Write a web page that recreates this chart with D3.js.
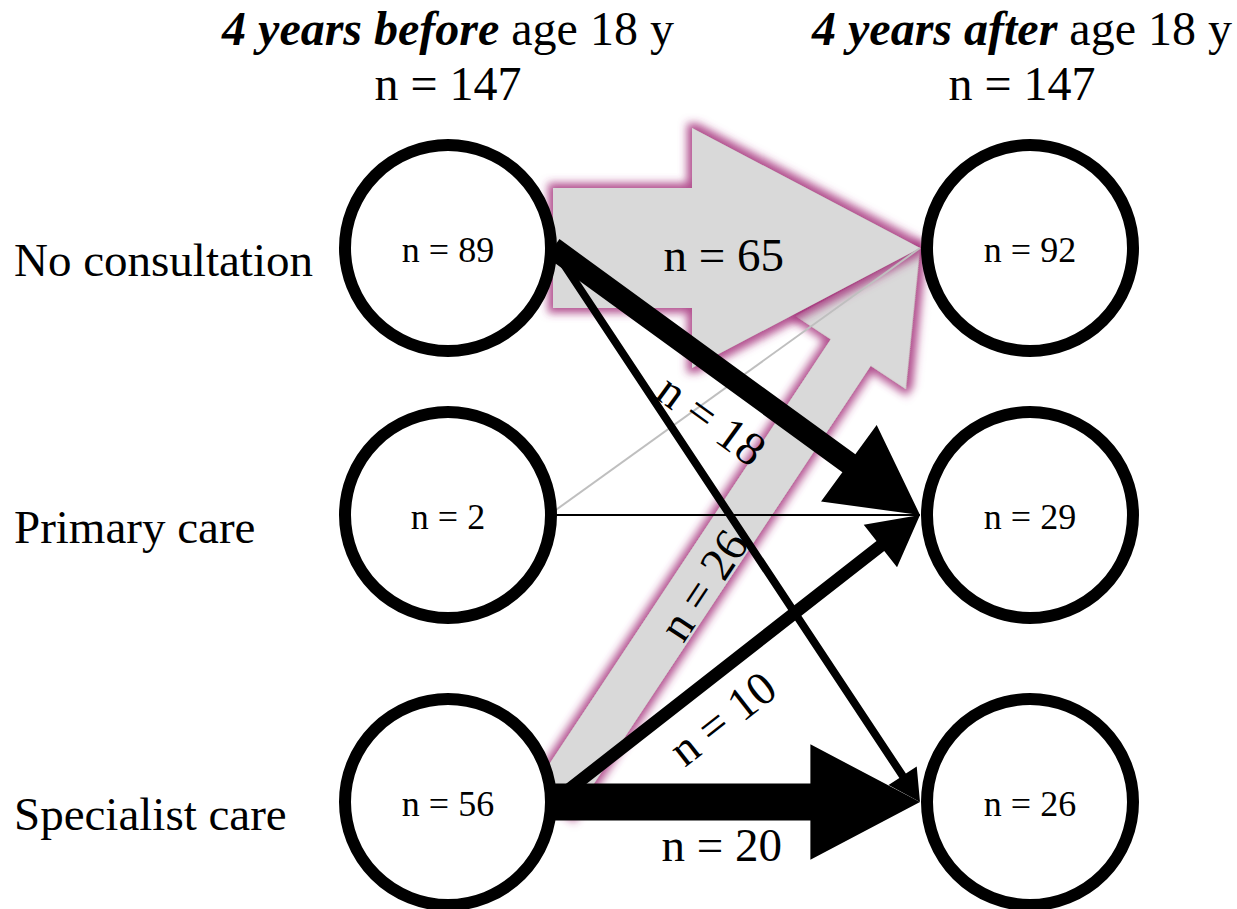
<!DOCTYPE html>
<html>
<head>
<meta charset="utf-8">
<title>Care before and after age 18</title>
<script src="https://d3js.org/d3.v7.min.js"></script>
<style>
    body { margin: 0; background: #fff; }
    svg text {
        font-family: "Liberation Serif", "Times New Roman", serif;
        fill: #000;
    }
</style>
</head>
<body>
<div id="vis_container"></div>
<script>
    // groups and counts
    var categories = ["No consultation", "Primary care", "Specialist care"];
    var periods = ["4 years before", "4 years after"];
    var periodTotals = [147, 147];
    var countsBefore = [89, 2, 56];
    var countsAfter = [92, 29, 26];

    // transitions (before -> after)
    var linkSource = ["Specialist care", "No consultation", "Primary care", "Primary care",
                      "No consultation", "No consultation", "Specialist care", "Specialist care"];
    var linkTarget = ["No consultation", "No consultation", "No consultation", "Primary care",
                      "Specialist care", "Primary care", "Primary care", "Specialist care"];
    var linkValue = [26, 65, 1, 1, 6, 18, 10, 20];

    var width = 1237, height = 909;

    var svg = d3.select("#vis_container")
            .append("svg")
            .attr("width", width)
            .attr("height", height);

    var colX = d3.scaleOrdinal().domain(periods).range([448, 1030]);
    var rowY = d3.scaleOrdinal().domain(categories).range([248, 515, 802]);

    var r = 103;
    var blockScale = d3.scaleLinear().domain([0, 65]).range([0, 120]);
    var lineScale = d3.scaleLinear().domain([0, 18]).range([0.8, 22]);

    //glow used on the grey block arrows
    var defs = svg.append("defs");
    var f = defs.append("filter").attr("id", "glow")
            .attr("x", "-20%").attr("y", "-20%").attr("width", "140%").attr("height", "140%");
    f.append("feMorphology").attr("in", "SourceAlpha").attr("operator", "dilate").attr("radius", 5).attr("result", "d");
    f.append("feGaussianBlur").attr("in", "d").attr("stdDeviation", 4.5).attr("result", "b");
    f.append("feFlood").attr("flood-color", "#a5327c").attr("flood-opacity", 0.85);
    f.append("feComposite").attr("in2", "b").attr("operator", "in").attr("result", "g");
    var fm = f.append("feMerge");
    fm.append("feMergeNode").attr("in", "g");
    fm.append("feMergeNode").attr("in", "SourceGraphic");

    // label placement along each link: t = fraction of length, d = offset across
    var labelPos = {
        "No consultation|No consultation": {t: 0.465, d: 7, rotate: false},
        "No consultation|Primary care": {t: 0.505, d: 45, rotate: true},
        "Specialist care|No consultation": {t: 0.397, d: 5, rotate: true},
        "Specialist care|Primary care": {t: 0.397, d: 38, rotate: true},
        "Specialist care|Specialist care": {t: 0.46, d: 43, rotate: false}
    };

    var links = linkValue.map(function(v, i) {
        var x0 = colX(periods[0]) + 105, y0 = rowY(linkSource[i]);
        var x1 = colX(periods[1]) - 110, y1 = rowY(linkTarget[i]);
        var kind = v <= 1 ? "plain" : (v >= 20 ? "block" : "arrow");
        return {
            source: linkSource[i], target: linkTarget[i], value: v,
            x0: x0, y0: y0, x1: x1, y1: y1,
            len: Math.hypot(x1 - x0, y1 - y0),
            angle: Math.atan2(y1 - y0, x1 - x0),
            kind: kind,
            grey: linkTarget[i] === categories[0]
        };
    });

    var line = d3.line();
    function arrowPath(d) {
        var w, hW, hL, L = d.len;
        if (d.kind === "block") {
            w = blockScale(d.value);
            hW = 60 + 1.5 * w;
            hL = 0.95 * hW;
        } else {
            w = lineScale(d.value);
            hW = 4.3 * w;
            hL = 0.93 * hW;
        }
        return line([[0, -w / 2], [L - hL, -w / 2], [L - hL, -hW / 2], [L, 0],
                     [L - hL, hW / 2], [L - hL, w / 2], [0, w / 2]]) + "Z";
    }

    var deg = 180 / Math.PI;

    // grey block arrows at the back
    svg.append("g").selectAll("path")
            .data(links.filter(function(d) { return d.kind === "block" && d.grey; }))
            .enter().append("path")
            .attr("transform", function(d) { return "translate(" + d.x0 + "," + d.y0 + ") rotate(" + d.angle * deg + ")"; })
            .attr("d", arrowPath)
            .attr("fill", "#d9d9d9")
            .attr("filter", "url(#glow)");

    // single-person transitions: plain lines
    svg.append("g").selectAll("line")
            .data(links.filter(function(d) { return d.kind === "plain"; }))
            .enter().append("line")
            .attr("x1", function(d) { return d.x0; })
            .attr("y1", function(d) { return d.y0 - (d.grey ? 3 : 0); })
            .attr("x2", function(d) { return d.x1; })
            .attr("y2", function(d) { return d.y1; })
            .attr("stroke", function(d) { return d.grey ? "#bfbfbf" : "#000"; })
            .attr("stroke-width", function(d) { return lineScale(d.value); });

    // black arrows
    svg.append("g").selectAll("path")
            .data(links.filter(function(d) { return d.kind !== "plain" && !d.grey; }))
            .enter().append("path")
            .attr("transform", function(d) { return "translate(" + d.x0 + "," + d.y0 + ") rotate(" + d.angle * deg + ")"; })
            .attr("d", arrowPath)
            .attr("fill", "#000");

    // link labels
    svg.append("g").selectAll("text")
            .data(links.filter(function(d) { return d.value >= 10; }))
            .enter().append("text")
            .attr("transform", function(d) {
                var p = labelPos[d.source + "|" + d.target];
                var ux = Math.cos(d.angle), uy = Math.sin(d.angle);
                var x = d.x0 + ux * d.len * p.t - uy * p.d;
                var y = d.y0 + uy * d.len * p.t + ux * p.d;
                return "translate(" + x + "," + y + ")" + (p.rotate ? " rotate(" + d.angle * deg + ")" : "");
            })
            .attr("text-anchor", "middle")
            .attr("dy", "0.35em")
            .style("font-size", "47px")
            .text(function(d) { return "n = " + d.value; });

    // nodes
    var nodes = [];
    categories.forEach(function(c, i) {
        nodes.push({period: periods[0], cat: c, n: countsBefore[i]});
        nodes.push({period: periods[1], cat: c, n: countsAfter[i]});
    });

    var node = svg.append("g").selectAll("g")
            .data(nodes)
            .enter().append("g")
            .attr("transform", function(d) { return "translate(" + colX(d.period) + "," + rowY(d.cat) + ")"; });

    node.append("circle")
            .attr("r", r)
            .attr("fill", "#fff")
            .attr("stroke", "#000")
            .attr("stroke-width", 12);

    node.append("text")
            .attr("text-anchor", "middle")
            .attr("y", 14)
            .style("font-size", "36px")
            .text(function(d) { return "n = " + d.n; });

    // row labels
    svg.append("g").selectAll("text")
            .data(categories)
            .enter().append("text")
            .attr("x", 14)
            .attr("y", function(d) { return rowY(d) + 28; })
            .style("font-size", "47px")
            .text(function(d) { return d; });

    // column headers
    var head = svg.append("g").selectAll("g")
            .data(periods)
            .enter().append("g")
            .attr("transform", function(d, i) { return "translate(" + (colX(d) - (i ? 8 : 0)) + ",0)"; });

    var h1 = head.append("text")
            .attr("text-anchor", "middle")
            .attr("y", 45)
            .style("font-size", "48px");
    h1.append("tspan")
            .style("font-weight", "bold")
            .style("font-style", "italic")
            .text(function(d) { return d; });
    h1.append("tspan").text(" age 18 y");

    head.append("text")
            .attr("text-anchor", "middle")
            .attr("y", 100)
            .style("font-size", "48px")
            .text(function(d, i) { return "n = " + periodTotals[i]; });
</script>
</body>
</html>
